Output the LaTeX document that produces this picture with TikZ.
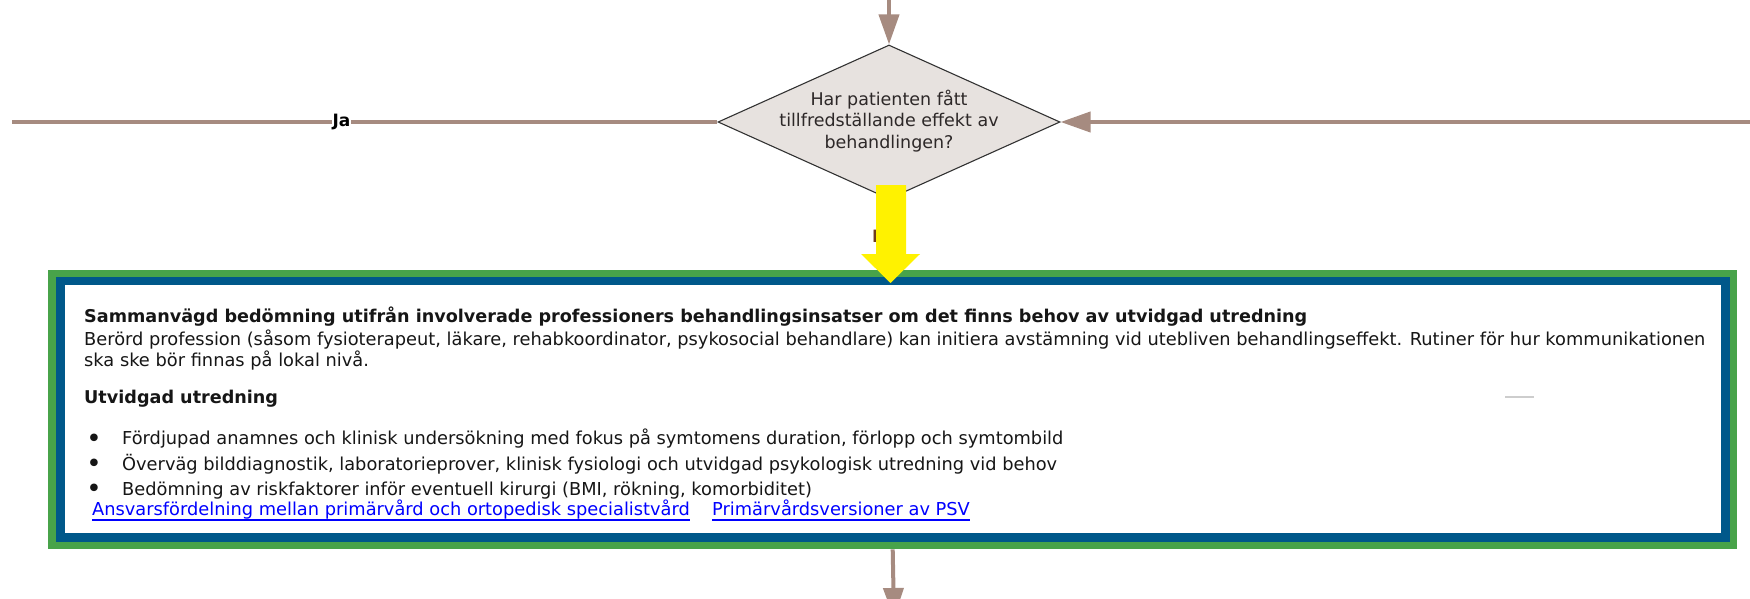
\documentclass[tikz,border=0pt]{standalone}
\usepackage{fontspec}
\setmainfont{DejaVu Sans}
\usetikzlibrary{shapes.geometric,arrows.meta,calc}

\definecolor{flowbrown}{RGB}{166,139,128}
\definecolor{qfill}{RGB}{231,226,223}
\definecolor{qedge}{RGB}{50,50,50}
\definecolor{framegreen}{RGB}{72,163,74}
\definecolor{frameblue}{RGB}{0,88,138}
\definecolor{linkblue}{RGB}{0,0,255}
\definecolor{bodytext}{RGB}{22,22,22}
\definecolor{qtext}{RGB}{45,40,40}
\definecolor{hairgray}{RGB}{205,205,205}
\definecolor{nejtext}{RGB}{110,60,30}

\tikzset{
  flowline/.style={draw=flowbrown, line width=4pt},
  flowarrow/.style={flowline, -{Triangle[length=30pt,width=20pt]}},
  decision/.style={diamond, draw=qedge, line width=1.1pt, fill=qfill,
    minimum width=342pt, minimum height=154pt, inner sep=0pt},
  qlabel/.style={align=center, text=qtext, inner sep=0pt,
    font=\fontsize{17.5}{21.7}\selectfont},
  edgelabel/.style={fill=white, text=black, inner sep=0.5pt,
    font=\fontsize{17}{20}\selectfont\bfseries},
  bodyline/.style={anchor=base west, inner sep=0pt, text=bodytext,
    font=\fontsize{17.8}{21}\selectfont},
  headline/.style={bodyline, font=\fontsize{17.6}{21}\selectfont\bfseries},
  linkline/.style={anchor=base west, inner sep=0pt, text=linkblue,
    font=\fontsize{17.8}{21}\selectfont},
  dot/.style={anchor=base, inner sep=0pt, text=bodytext, font=\fontsize{26}{26}\selectfont},
}

\begin{document}
\begin{tikzpicture}[x=1pt,y=-1pt]
\useasboundingbox (0,0) rectangle (1750,599);
\clip (0,0) rectangle (1750,599);

% decision diamond
\node[decision] (q) at (889,122) {};
\node[qlabel] (qt) at (889,121) {Har patienten fått\\tillfredställande effekt av\\behandlingen?};

% framed box: green outer, blue band, white inside
\node[fill=framegreen, inner sep=0pt, minimum width=1689pt, minimum height=279pt,
      anchor=north west] (box) at (48,270) {};
\fill[frameblue] ($(box.north west)+(8,7)$) rectangle ($(box.south east)+(-7,-7)$);
\fill[white] ($(box.north west)+(17,15)$) rectangle ($(box.south east)+(-16,-16)$);

% connectors
\coordinate (topin) at (889,-2);
\coordinate (jaend) at (12,122);
\coordinate (rightin) at (1752,122);
\coordinate (downout) at (894,618);

\draw[flowarrow] (topin) -- (q.north);
\draw[flowline] (q.west) -- (jaend) node[edgelabel, pos=0.533] (ja) {Ja};
\draw[flowarrow] (rightin) -- (q.east);
\draw[flowline] (q.south) -- (box.north)
  node[edgelabel, fill=none, text=nejtext, pos=0.54, xshift=-3pt] (nej) {Nej};
\draw[flowarrow] (box.south) -- (downout);

% highlighted arrow into the box
\fill[yellow] (876,185) -- (906,185) -- (906,254) -- (920,254) -- (890.5,283)
  -- (861,254) -- (876,254) -- cycle;

% box contents
\node[headline] (h1) at (84,322) {Sammanvägd bedömning utifrån involverade professioners behandlingsinsatser om det finns behov av utvidgad utredning};
\node[bodyline] (p1) at (84,345) {Berörd profession (såsom fysioterapeut, läkare, rehabkoordinator, psykosocial behandlare) kan initiera avstämning vid utebliven behandlingseffekt. Rutiner för hur kommunikationen};
\node[bodyline] (p2) at (84,366) {ska ske bör finnas på lokal nivå.};
\node[headline] (h2) at (84,403) {Utvidgad utredning};

\draw[hairgray, line width=1.5pt] (1505,397) -- (1534,397);

\node[dot] (d1) at (94,447) {•};
\node[dot] (d2) at (94,472) {•};
\node[dot] (d3) at (94,497) {•};
\node[bodyline] (b1) at (122,444) {Fördjupad anamnes och klinisk undersökning med fokus på symtomens duration, förlopp och symtombild};
\node[bodyline] (b2) at (122,470) {Överväg bilddiagnostik, laboratorieprover, klinisk fysiologi och utvidgad psykologisk utredning vid behov};
\node[bodyline] (b3) at (122,495) {Bedömning av riskfaktorer inför eventuell kirurgi (BMI, rökning, komorbiditet)};

\node[linkline] (l1) at (92,515) {Ansvarsfördelning mellan primärvård och ortopedisk specialistvård};
\node[linkline] (l2) at (712,515) {Primärvårdsversioner av PSV};
\draw[linkblue, line width=1.3pt] ($(l1.base west)+(0,5)$) -- ($(l1.base east)+(0,5)$);
\draw[linkblue, line width=1.3pt] ($(l2.base west)+(0,5)$) -- ($(l2.base east)+(0,5)$);
\end{tikzpicture}
\end{document}
